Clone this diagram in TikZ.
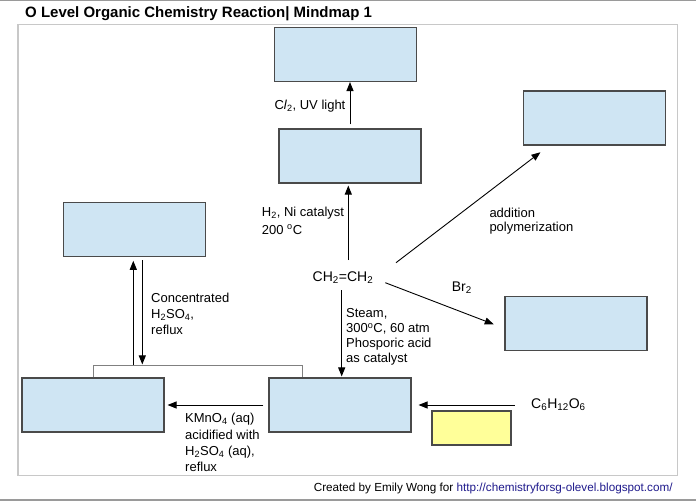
\documentclass[tikz,border=0pt]{standalone}
\usepackage{fontspec}
\setmainfont{Liberation Sans}
\usetikzlibrary{arrows.meta,calc}
\definecolor{boxblue}{HTML}{CFE5F3}
\definecolor{boxedge}{HTML}{4A4A4A}
\definecolor{paleyellow}{HTML}{FFFF99}
\definecolor{framegray}{HTML}{C8C8C8}
\definecolor{rulegray}{HTML}{9A9A9A}
\definecolor{bracketc}{HTML}{808080}
\definecolor{linkblue}{HTML}{1F1A8C}
\begin{document}
\begin{tikzpicture}[x=1pt,y=-1pt,
  bluebox/.style={draw=boxedge,line width=1.1pt,fill=boxblue,minimum width=142pt,minimum height=54pt,inner sep=0pt},
  yellowbox/.style={draw=boxedge,line width=1.1pt,fill=paleyellow,minimum width=79pt,minimum height=34pt,inner sep=0pt},
  arr/.style={draw=black,line width=1pt,-{Triangle[length=9pt,width=7pt]}},
  darr/.style={draw=black,line width=0.9pt,-{Triangle[length=9pt,width=7pt]}},
  lbl/.style={inner sep=0pt,anchor=base west,align=left,font=\fontsize{13}{16}\selectfont},
  chem/.style={inner sep=0pt,anchor=base west,font=\fontsize{14}{16}\selectfont},
]
\useasboundingbox (0,0) rectangle (696,501);
\fill[white] (0,0) rectangle (696,501);
% page rules and frame
\draw[rulegray,line width=1pt] (0,0.5) -- (696,0.5);
\draw[rulegray,line width=1.3pt] (0,500) -- (696,500);
\draw[framegray,line width=1.4pt] (18,24.5) rectangle (677.7,475.7);

% title and footer
\node[anchor=base west,inner sep=0pt,font=\bfseries\fontsize{15}{18}\selectfont] (title) at (25,17.3) {O Level Organic Chemistry Reaction| Mindmap 1};
\node[anchor=base west,inner sep=0pt,font=\fontsize{11.7}{14}\selectfont] (foot) at (313.6,491) {Created by Emily Wong for \textcolor{linkblue}{http://chemistryforsg-olevel.blogspot.com/}};

% boxes
\node[bluebox] (b1) at (345.5,54.5) {};
\node[bluebox] (b2) at (350,156) {};
\node[bluebox] (b3) at (594.5,118) {};
\node[bluebox] (b4) at (576,323.5) {};
\node[bluebox] (b5) at (134.5,229.5) {};
\node[bluebox] (b6) at (93,405) {};
\node[bluebox] (b7) at (340,405) {};
\node[yellowbox] (y1) at (471.5,428) {};

% chemicals
\node[chem,anchor=base] (eth) at (343,281.7) {CH\textsubscript{2}=CH\textsubscript{2}};
\node[chem] (c6) at (531,408.3) {C\textsubscript{6}H\textsubscript{12}O\textsubscript{6}};

% labels (multi-line: base anchor is the last line's baseline)
\node[lbl] (lcl) at (274.3,109.5) {C\textit{l}\textsubscript{2}, UV light};
\node[lbl,font=\fontsize{13}{17.3}\selectfont] (lh2) at (261.7,234) {H\textsubscript{2}, Ni catalyst\\200 \textsuperscript{o}C};
\node[lbl,font=\fontsize{13}{15.1}\selectfont] (lst) at (346,362.6) {Steam,\\300\textsuperscript{o}C, 60 atm\\Phosporic acid\\as catalyst};
\node[lbl,font=\fontsize{13}{14.5}\selectfont] (lpol) at (489.3,231.8) {addition\\polymerization};
\node[chem] (lbr) at (451.7,291) {Br\textsubscript{2}};
\node[lbl,font=\fontsize{13}{16.3}\selectfont] (lcon) at (151,334.9) {Concentrated\\H\textsubscript{2}SO\textsubscript{4},\\reflux};
\node[lbl,font=\fontsize{13}{16.4}\selectfont] (lkm) at (185,471.9) {KMnO\textsubscript{4} (aq)\\acidified with\\H\textsubscript{2}SO\textsubscript{4} (aq),\\reflux};

% helper coordinates
\coordinate (ethN) at ($(eth.base)+(5.3,-21.7)$);
\coordinate (ethS) at ($(eth.base)+(-1.3,8.3)$);
\coordinate (ethNE) at ($(eth.base)+(53,-19)$);
\coordinate (ethE) at ($(eth.base)+(42.3,1)$);
\coordinate (brL) at ($(b6.north)+(0,-12)$);
\coordinate (upS) at ($(b5.south)+(-1.2,0)$);
\coordinate (dnS) at ($(b5.south)+(7.8,3)$);

% connectors
\draw[arr,shorten <=4pt] (b2.north) -- (b2.north |- b1.south);
\draw[arr,shorten >=2pt] (ethN) -- (ethN |- b2.south);
\draw[arr,shorten >=1pt] (ethS) -- (ethS |- b7.north);
\draw[darr] (ethNE) -- ($(b3.south west)+(17.5,6.7)$);
\draw[darr] (ethE) -- ($(b4.west)+(-10.7,0.8)$);
\draw[bracketc,line width=1pt] (b6.north) -- (brL) -| ($(b7.north)+(-38,0)$);
\draw[arr,shorten >=3.7pt] (upS |- brL) -- (upS);
\draw[arr,shorten >=1pt] (dnS) -- (dnS |- brL);
\draw[arr,shorten <=5pt,shorten >=3pt] (b7.west) -- (b6.east);
\draw[arr,shorten <=16.5pt,shorten >=7pt] (c6.west |- b7.east) -- (b7.east);
\end{tikzpicture}
\end{document}
